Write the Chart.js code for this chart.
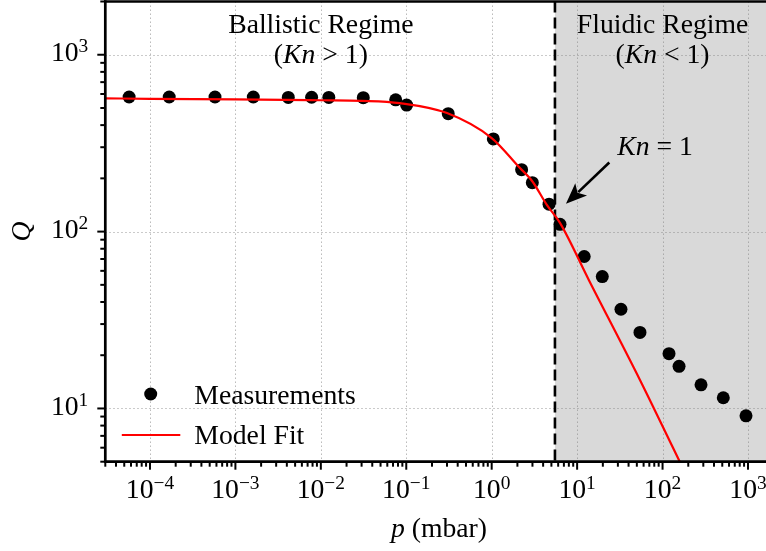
<!DOCTYPE html>
<html><head><meta charset="utf-8">
<script src="https://cdn.jsdelivr.net/npm/chart.js@4.4.1/dist/chart.umd.min.js"></script>
<style>html,body{margin:0;padding:0;overflow:hidden;background:#fff}#wrap{width:766px;height:551px}</style>
</head><body><div id="wrap"><canvas id="c" width="766" height="551"></canvas></div>
<script>
// ---- data ----
const measurementP = [5.7e-5, 1.68e-4, 5.77e-4, 1.62e-3, 4.16e-3, 7.8e-3, 0.0124, 0.0314, 0.0752, 0.101, 0.31, 1.045, 2.24, 2.99, 4.69, 6.3, 12.1, 19.7, 32.6, 54.4, 119, 156, 282, 514, 948];
const measurementQ = [577, 577, 577, 577, 574, 575, 574, 572, 556, 519, 464, 334, 224, 189, 143, 110, 72.3, 55.7, 36.4, 26.9, 20.4, 17.3, 13.6, 11.5, 9.08];
const fitP = [3e-5, 1e-4, 1e-3, 1e-2, 0.03, 0.084, 0.3, 1.0, 2.1, 3.0, 4.4, 6.3, 13.7, 54.4, 156, 200];
const fitQ = [567, 563, 560, 553, 549, 533, 468, 338, 231, 192, 142, 112, 53.3, 14.5, 5.1, 4.0];
const xTickExponents = [-4, -3, -2, -1, 0, 1, 2, 3];
const yTickExponents = [1, 2, 3];
const seriesLabels = ['Measurements', 'Model Fit'];
const knBoundaryP = 5.5;
const xRange = [3e-5, 1625];
const yRange = [5, 2000];

const FAM = '"Liberation Serif", "Times New Roman", serif';
const BASE = 27.7, SUP = 19.4;
function fnt(size, italic) { return (italic ? 'italic ' : '') + size + 'px ' + FAM; }
function richWidth(ctx, parts) { let w = 0; for (const p of parts) { ctx.font = fnt(p.size || BASE, p.italic); w += ctx.measureText(p.t).width; } return w; }
function drawRich(ctx, parts, x, y, align) {
  const w = richWidth(ctx, parts);
  let cx = align === 'center' ? x - w / 2 : align === 'right' ? x - w : x;
  ctx.textAlign = 'left'; ctx.textBaseline = 'alphabetic';
  for (const p of parts) { ctx.font = fnt(p.size || BASE, p.italic); ctx.fillText(p.t, cx, y - (p.dy || 0)); cx += ctx.measureText(p.t).width; }
}
function powParts(e) { return [{ t: '10' }, { t: e < 0 ? '\u2212' + (-e) : String(e), size: SUP, dy: 9 }]; }

const decor = {
  id: 'decor',
  beforeDatasetsDraw(chart) {
    const { ctx, chartArea: a, scales: { x, y } } = chart;
    ctx.save();
    const xb = x.getPixelForValue(knBoundaryP);
    ctx.fillStyle = '#d9d9d9';
    ctx.fillRect(xb, a.top, a.right - xb, a.bottom - a.top);
    ctx.strokeStyle = 'rgba(130,130,130,0.6)'; ctx.lineWidth = 1; ctx.setLineDash([1.4, 2.6]);
    for (const e of xTickExponents) { const px = Math.round(x.getPixelForValue(Math.pow(10, e))) + 0.5; ctx.beginPath(); ctx.moveTo(px, a.top); ctx.lineTo(px, a.bottom); ctx.stroke(); }
    for (const e of yTickExponents) { const py = Math.round(y.getPixelForValue(Math.pow(10, e))) + 0.5; ctx.beginPath(); ctx.moveTo(a.left, py); ctx.lineTo(a.right, py); ctx.stroke(); }
    ctx.strokeStyle = '#000'; ctx.lineWidth = 2.6; ctx.setLineDash([11, 5]);
    ctx.beginPath(); ctx.moveTo(xb, a.top); ctx.lineTo(xb, a.bottom); ctx.stroke();
    ctx.restore();
  },
  afterDatasetsDraw(chart) {
    const { ctx, chartArea: a, scales: { x, y } } = chart;
    ctx.save();
    ctx.fillStyle = '#000'; ctx.strokeStyle = '#000';
    ctx.lineWidth = 2.7; ctx.lineCap = 'butt';
    ctx.beginPath(); ctx.moveTo(a.left, a.top - 1.3); ctx.lineTo(a.left, a.bottom + 1.3); ctx.stroke();
    ctx.beginPath(); ctx.moveTo(a.left - 1.3, a.bottom); ctx.lineTo(a.right + 2, a.bottom); ctx.stroke();
    ctx.beginPath(); ctx.moveTo(a.left - 1.3, a.top); ctx.lineTo(a.right + 2, a.top); ctx.stroke();
    ctx.lineWidth = 2;
    for (let e = -5; e <= 3; e++) for (let k = 1; k <= 9; k++) {
      const v = k * Math.pow(10, e); if (v < xRange[0] || v > xRange[1]) continue;
      const px = x.getPixelForValue(v), len = k === 1 ? 8 : 5;
      ctx.beginPath(); ctx.moveTo(px, a.bottom); ctx.lineTo(px, a.bottom + len); ctx.stroke();
    }
    for (let e = 0; e <= 3; e++) for (let k = 1; k <= 9; k++) {
      const v = k * Math.pow(10, e); if (v < yRange[0] || v > yRange[1]) continue;
      const py = y.getPixelForValue(v), len = k === 1 ? 8 : 5;
      ctx.beginPath(); ctx.moveTo(a.left, py); ctx.lineTo(a.left - len, py); ctx.stroke();
    }
    for (const e of xTickExponents) drawRich(ctx, powParts(e), x.getPixelForValue(Math.pow(10, e)), a.bottom + 36.6, 'center');
    for (const e of yTickExponents) drawRich(ctx, powParts(e), a.left - 17, y.getPixelForValue(Math.pow(10, e)) + 6.7, 'right');
    drawRich(ctx, [{ t: 'p', italic: true }, { t: ' (mbar)' }], 439, 537, 'center');
    ctx.save(); ctx.translate(30, (a.top + a.bottom) / 2); ctx.rotate(-Math.PI / 2);
    drawRich(ctx, [{ t: 'Q', italic: true }], 0, 0, 'center'); ctx.restore();
    const xl = x.getPixelForValue(0.01), xr = x.getPixelForValue(100);
    drawRich(ctx, [{ t: 'Ballistic Regime' }], xl, a.top + 31.8, 'center');
    drawRich(ctx, [{ t: '(' }, { t: 'Kn', italic: true }, { t: ' > 1)' }], xl, a.top + 61.8, 'center');
    drawRich(ctx, [{ t: 'Fluidic Regime' }], xr, a.top + 31.8, 'center');
    drawRich(ctx, [{ t: '(' }, { t: 'Kn', italic: true }, { t: ' < 1)' }], xr, a.top + 61.8, 'center');
    drawRich(ctx, [{ t: 'Kn', italic: true }, { t: ' = 1' }], x.getPixelForValue(81.5), y.getPixelForValue(272), 'center');
    const tx = x.getPixelForValue(23.8), ty = y.getPixelForValue(246);
    const hx = x.getPixelForValue(7.4), hy = y.getPixelForValue(143.6);
    const ang = Math.atan2(hy - ty, hx - tx), hl = 21, hw = 8.5;
    const bx = hx - hl * Math.cos(ang), by = hy - hl * Math.sin(ang);
    ctx.lineWidth = 2.6;
    ctx.beginPath(); ctx.moveTo(tx, ty); ctx.lineTo(bx + 4 * Math.cos(ang), by + 4 * Math.sin(ang)); ctx.stroke();
    ctx.beginPath(); ctx.moveTo(hx, hy);
    ctx.lineTo(bx - hw * Math.sin(ang), by + hw * Math.cos(ang));
    ctx.lineTo(bx + 5 * Math.cos(ang), by + 5 * Math.sin(ang));
    ctx.lineTo(bx + hw * Math.sin(ang), by - hw * Math.cos(ang));
    ctx.closePath(); ctx.fill();
    ctx.beginPath(); ctx.arc(a.left + 45.4, a.bottom - 67.7, 6.5, 0, Math.PI * 2); ctx.fill();
    drawRich(ctx, [{ t: seriesLabels[0] }], a.left + 89, a.bottom - 57.5, 'left');
    ctx.strokeStyle = '#ff0000'; ctx.lineWidth = 2.2;
    ctx.beginPath(); ctx.moveTo(a.left + 16.5, a.bottom - 26.7); ctx.lineTo(a.left + 75, a.bottom - 26.7); ctx.stroke();
    drawRich(ctx, [{ t: seriesLabels[1] }], a.left + 89, a.bottom - 17.5, 'left');
    ctx.restore();
  }
};

new Chart(document.getElementById('c'), {
  type: 'scatter',
  data: {
    datasets: [
      { label: seriesLabels[1], data: fitP.map((p, i) => ({ x: p, y: fitQ[i] })), showLine: true, borderColor: '#ff0000', borderWidth: 2.2, pointRadius: 0, cubicInterpolationMode: 'monotone', order: 0 },
      { label: seriesLabels[0], data: measurementP.map((p, i) => ({ x: p, y: measurementQ[i] })), showLine: false, backgroundColor: '#000', borderWidth: 0, pointRadius: 6.5, pointHoverRadius: 6.5, order: 1 }
    ]
  },
  options: {
    responsive: false, devicePixelRatio: 1, animation: false,
    layout: { autoPadding: false, padding: { left: 105.3, top: 1.5, right: 0, bottom: 89.3 } },
    plugins: { legend: { display: false }, tooltip: { enabled: false } },
    scales: {
      x: { type: 'logarithmic', min: xRange[0], max: xRange[1], display: false },
      y: { type: 'logarithmic', min: yRange[0], max: yRange[1], display: false }
    }
  },
  plugins: [decor]
});
</script></body></html>
